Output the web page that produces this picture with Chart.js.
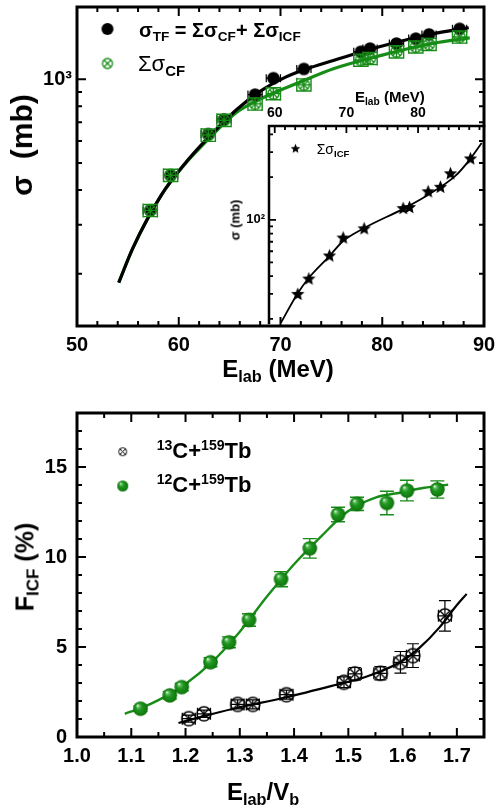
<!DOCTYPE html>
<html><head><meta charset="utf-8">
<script src="https://cdn.jsdelivr.net/npm/chart.js@4.4.1/dist/chart.umd.min.js"></script>
<style>
html,body{margin:0;padding:0;background:#fff;}
#wrap{position:relative;width:495px;height:811px;overflow:hidden;background:#fff;}
canvas{position:absolute;}
.t{position:absolute;font-family:'Liberation Sans',Arial,Helvetica,sans-serif;font-weight:bold;white-space:nowrap;line-height:1;color:#000;}
.n{font-weight:normal;}
.sb{font-size:.68em;position:relative;top:.3em;font-weight:bold;}
.sp{font-size:.64em;position:relative;top:-.55em;}
.rot{transform:translate(-50%,-50%) rotate(-90deg);}
.cx{transform:translateX(-50%);}
</style></head>
<body><div id="wrap">
<canvas id="top" width="495" height="395" style="left:0;top:0"></canvas>
<canvas id="inset" width="270" height="240" style="left:225px;top:90px"></canvas>
<canvas id="bot" width="495" height="411" style="left:0;top:400px"></canvas>

<div class="t" style="left:139px;top:19.6px;font-size:20px">σ<span class="sb">TF</span> = Σσ<span class="sb">CF</span>+ Σσ<span class="sb">ICF</span></div>
<div class="t n" style="left:138px;top:53.1px;font-size:22px">Σσ<span class="sb">CF</span></div>
<div class="t cx" style="left:278px;top:356.7px;font-size:24px">E<span class="sb">lab</span> (MeV)</div>
<div class="t rot" style="left:22px;top:145px;font-size:30px;word-spacing:8px">σ (mb)</div>

<div class="t n" style="left:316.7px;top:142.1px;font-size:14px">Σσ<span class="sb">ICF</span></div>
<div class="t" style="left:355px;top:89px;font-size:15px">E<span class="sb">lab</span> (MeV)</div>
<div class="t rot" style="left:235px;top:220px;font-size:13px">σ (mb)</div>

<div class="t" style="left:156.7px;top:439.7px;font-size:22px"><span class="sp">13</span>C+<span class="sp">159</span>Tb</div>
<div class="t" style="left:156.7px;top:474.1px;font-size:22px"><span class="sp">12</span>C+<span class="sp">159</span>Tb</div>
<div class="t cx" style="left:263px;top:779.7px;font-size:24px">E<span class="sb">lab</span>/V<span class="sb">b</span></div>
<div class="t rot" style="left:25px;top:567px;font-size:25px">F<span class="sb">ICF</span> (%)</div>
</div>
<script>
// ---------- Top panel: cross sections vs E_lab ----------
const E_lab      = [57.2, 59.2, 62.9, 64.45, 67.5, 69.3, 72.3, 77.9, 78.8, 81.4, 83.3, 84.6, 87.6];
const E_err      = [0.7, 0.7, 0.7, 0.7, 0.7, 0.7, 0.7, 0.7, 0.7, 0.7, 0.7, 0.7, 0.7];
const sigmaTF    = [338, 452, 635, 717, 880, 1008, 1088, 1254, 1288, 1342, 1398, 1447, 1516];
const sigmaTF_err= [10, 14, 19, 22, 26, 30, 33, 38, 39, 40, 42, 43, 45];
const sigmaCF    = [338, 452, 630, 712, 815, 887, 954, 1171, 1187, 1254, 1306, 1334, 1417];
const sigmaCF_err= [17, 23, 32, 36, 41, 44, 48, 59, 59, 63, 65, 67, 71];
const fitTF_E    = [54.1, 55.5, 58.3, 60.45, 62.75, 65.7, 68.0, 70.3, 72.3, 75.2, 80.1, 85.0, 88.5];
const fitTF      = [186, 248, 384, 490, 609, 778, 904, 1008, 1080, 1167, 1318, 1455, 1529];
const fitCF_E    = [54.1, 55.5, 58.3, 60.45, 62.75, 65.7, 68.6, 71.9, 75.2, 80.1, 85.0, 88.6];
const fitCF      = [186, 248, 384, 488, 600, 760, 868, 975, 1090, 1222, 1345, 1406];
const topXLabels = [50, 60, 70, 80, 90];
const topYLabels = [1000];
const topYMinor  = [200, 300, 400, 500, 600, 700, 800, 900];

// ---------- Inset: ICF cross section ----------
const icfE       = [63.15, 64.69, 67.57, 69.48, 72.41, 77.85, 78.73, 81.34, 83.06, 84.45, 87.24];
const sigmaICF   = [30, 38.5, 56, 75, 87, 121, 123, 159, 171, 213, 271];
const fitICF_E   = [60.84, 63.15, 64.69, 67.57, 69.48, 72.41, 77.85, 81.2, 85.2, 87.24, 88.87];
const fitICF     = [18.7, 30, 38.5, 55, 70.3, 87, 119, 148, 204, 267, 348];
const insetXLabels = [60, 70, 80];
const insetYLabels = [100];
const insetYMinor  = [20, 30, 40, 50, 60, 70, 80, 90, 200, 300, 400];

// ---------- Bottom panel: F_ICF vs E_lab/V_b ----------
const ratio12 = [1.117, 1.171, 1.193, 1.246, 1.280, 1.317, 1.376, 1.429, 1.481, 1.516, 1.571, 1.608, 1.664];
const F12     = [1.57, 2.31, 2.77, 4.15, 5.26, 6.50, 8.77, 10.48, 12.36, 12.95, 13.0, 13.69, 13.75];
const err12   = [0.15, 0.2, 0.2, 0.25, 0.3, 0.35, 0.42, 0.54, 0.4, 0.37, 0.65, 0.57, 0.48];
const ratio13 = [1.206, 1.234, 1.296, 1.324, 1.386, 1.492, 1.512, 1.559, 1.596, 1.619, 1.678];
const F13     = [1.02, 1.29, 1.81, 1.81, 2.35, 3.04, 3.51, 3.54, 4.15, 4.52, 6.73];
const err13   = [0.2, 0.2, 0.25, 0.25, 0.25, 0.3, 0.35, 0.37, 0.6, 0.66, 0.85];
const errX13  = [0.012, 0.012, 0.012, 0.012, 0.012, 0.012, 0.012, 0.012, 0.012, 0.012, 0.012];
const fit12_x = [1.088, 1.117, 1.15, 1.2, 1.25, 1.3, 1.35, 1.4, 1.45, 1.5, 1.55, 1.6, 1.64, 1.684];
const fit12_y = [1.29, 1.6, 2.05, 2.95, 4.2, 5.85, 7.8, 9.6, 11.15, 12.55, 13.3, 13.6, 13.85, 14.02];
const fit13_x = [1.187, 1.22, 1.288, 1.386, 1.472, 1.534, 1.595, 1.632, 1.668, 1.699, 1.718];
const fit13_y = [0.78, 1.05, 1.57, 2.21, 2.86, 3.36, 4.15, 4.98, 6.09, 7.29, 7.95];
const botXLabels = [1.0, 1.1, 1.2, 1.3, 1.4, 1.5, 1.6, 1.7];
const botYLabels = [0, 5, 10, 15];

// ---------- helpers ----------
Chart.defaults.font.family = "'Liberation Sans', Arial, Helvetica, sans-serif";
Chart.defaults.color = '#000';
const G = '#178c17';
const pts = (xs, ys) => xs.map((x, i) => ({x: x, y: ys[i]}));

function mk(s){ const c = document.createElement('canvas'); c.width = c.height = s; return c; }
function circleX(r, color, lw){
  const s = Math.ceil(2*r + lw + 2), c = mk(s), g = c.getContext('2d'), m = s/2;
  g.strokeStyle = color; g.lineWidth = lw;
  g.beginPath(); g.arc(m, m, r, 0, Math.PI*2); g.stroke();
  const d = r*Math.SQRT1_2;
  g.beginPath(); g.moveTo(m-d, m-d); g.lineTo(m+d, m+d); g.moveTo(m+d, m-d); g.lineTo(m-d, m+d); g.stroke();
  return c;
}
function disc(r, color){
  const s = Math.ceil(2*r + 2), c = mk(s), g = c.getContext('2d'), m = s/2;
  g.fillStyle = color; g.beginPath(); g.arc(m, m, r, 0, Math.PI*2); g.fill(); return c;
}
function sphere(r){
  const s = Math.ceil(2*r + 2), c = mk(s), g = c.getContext('2d'), m = s/2;
  const gr = g.createRadialGradient(m - r*0.4, m - r*0.45, r*0.05, m, m, r);
  gr.addColorStop(0, '#e8f8e8'); gr.addColorStop(0.18, '#5cbc5c'); gr.addColorStop(0.45, '#1f931f');
  gr.addColorStop(0.85, '#11800f'); gr.addColorStop(1, '#0a640a');
  g.fillStyle = gr; g.beginPath(); g.arc(m, m, r, 0, Math.PI*2); g.fill(); return c;
}
function star(R){
  const s = Math.ceil(2*R + 2), c = mk(s), g = c.getContext('2d'), m = s/2 + 0.5;
  g.fillStyle = '#000'; g.beginPath();
  for (let i = 0; i < 10; i++){ const rr = i % 2 ? R*0.45 : R; const a = -Math.PI/2 + i*Math.PI/5; g.lineTo(m + rr*Math.cos(a), m + rr*Math.sin(a)); }
  g.closePath(); g.fill(); return c;
}
function tickList(major, minor){
  return major.map(v => ({value: v, major: true})).concat(minor.map(v => ({value: v, major: false})))
    .sort((a, b) => a.value - b.value);
}
function range(a, b, step){ const r = []; for (let v = a; v <= b + 1e-9; v += step) r.push(+v.toFixed(6)); return r; }
const fixW = w => s => { s.width = w; s.paddingTop = 0; s.paddingBottom = 0; s.paddingLeft = 0; s.paddingRight = 0; };
const fixH = h => s => { s.height = h; s.paddingTop = 0; s.paddingBottom = 0; s.paddingLeft = 0; s.paddingRight = 0; };

const errPlugin = {
  id: 'errbars',
  beforeDatasetDraw(chart, args){
    const ds = chart.data.datasets[args.index];
    if (!ds.errY && !ds.errX) return;
    const xs = chart.scales.x, ys = chart.scales.y, ctx = chart.ctx, c = ds.cap || 5;
    ctx.save(); ctx.strokeStyle = ds.errColor; ctx.lineWidth = ds.errWidth || 1.3;
    ds.data.forEach((p, i) => {
      const px = xs.getPixelForValue(p.x), py = ys.getPixelForValue(p.y);
      ctx.beginPath();
      if (ds.errY){ const e = ds.errY[i]; const y1 = ys.getPixelForValue(p.y + e), y2 = ys.getPixelForValue(p.y - e);
        ctx.moveTo(px, y1); ctx.lineTo(px, y2); ctx.moveTo(px - c, y1); ctx.lineTo(px + c, y1); ctx.moveTo(px - c, y2); ctx.lineTo(px + c, y2); }
      if (ds.errX){ const e = ds.errX[i]; const x1 = xs.getPixelForValue(p.x - e), x2 = xs.getPixelForValue(p.x + e);
        ctx.moveTo(x1, py); ctx.lineTo(x2, py); ctx.moveTo(x1, py - c); ctx.lineTo(x1, py + c); ctx.moveTo(x2, py - c); ctx.lineTo(x2, py + c); }
      ctx.stroke();
    });
    ctx.restore();
  }
};
function framePlugin(o){
  return { id: 'frame', afterDraw(chart){
    const ctx = chart.ctx, a = chart.chartArea, xs = chart.scales.x, ys = chart.scales.y;
    ctx.save(); ctx.strokeStyle = '#000'; ctx.lineWidth = o.tw; ctx.beginPath();
    xs.ticks.forEach(t => { const p = xs.getPixelForValue(t.value); const L = t.major ? o.maj : o.min;
      if (o.bottom){ ctx.moveTo(p, a.bottom); ctx.lineTo(p, a.bottom - L); }
      if (o.top){ ctx.moveTo(p, a.top); ctx.lineTo(p, a.top + L); } });
    ys.ticks.forEach(t => { const p = ys.getPixelForValue(t.value); const L = t.major ? o.maj : o.min;
      if (o.left){ ctx.moveTo(a.left, p); ctx.lineTo(a.left + L, p); }
      if (o.right){ ctx.moveTo(a.right, p); ctx.lineTo(a.right - L, p); } });
    ctx.stroke();
    ctx.lineWidth = o.lw; ctx.lineCap = 'square'; ctx.beginPath();
    if (o.left){ ctx.moveTo(a.left, a.bottom); ctx.lineTo(a.left, a.top); }
    if (o.top){ ctx.moveTo(a.left, a.top); ctx.lineTo(a.right, a.top); }
    if (o.right){ ctx.moveTo(a.right, a.top); ctx.lineTo(a.right, a.bottom); }
    if (o.bottom){ ctx.moveTo(a.right, a.bottom); ctx.lineTo(a.left, a.bottom); }
    ctx.stroke(); ctx.restore();
  } };
}
function legendSyms(list){
  return { id: 'legsym', afterDraw(chart){ const ctx = chart.ctx;
    list.forEach(s => ctx.drawImage(s.img, s.x - s.img.width/2, s.y - s.img.height/2)); } };
}
const bold = s => ({size: s, weight: 'bold'});
const noGrid = {display: false, drawTicks: false};
const baseOpts = {responsive: false, animation: false, devicePixelRatio: 1,
  plugins: {legend: {display: false}, tooltip: {enabled: false}}, events: []};

// ---------- top chart ----------
const cxGreen = circleX(5.5, G, 1.4), dotBlack = disc(6.3, '#000');
new Chart(document.getElementById('top'), {
  type: 'scatter',
  data: {datasets: [
    {label: 'ΣσCF', data: pts(E_lab, sigmaCF), pointStyle: cxGreen, pointRadius: 6, errX: E_err, errY: sigmaCF_err, errColor: G, cap: 7, errWidth: 1.4, order: 0},
    {label: 'σTF', data: pts(E_lab, sigmaTF), pointStyle: dotBlack, pointRadius: 6, errX: E_err, errY: sigmaTF_err, errColor: '#000', cap: 4, errWidth: 1.2, order: 1},
    {label: 'TF fit', data: pts(fitTF_E, fitTF), showLine: true, pointRadius: 0, borderColor: '#000', borderWidth: 3.2, cubicInterpolationMode: 'monotone', order: 2},
    {label: 'CF fit', data: pts(fitCF_E, fitCF), showLine: true, pointRadius: 0, borderColor: G, borderWidth: 3.2, cubicInterpolationMode: 'monotone', order: 3}
  ]},
  options: Object.assign({}, baseOpts, {
    layout: {padding: {left: 0, right: 11, top: 3, bottom: 0}},
    scales: {
      x: {type: 'linear', min: 50, max: 90, grid: noGrid, border: {display: false},
          afterFit: fixH(69),
          afterBuildTicks: s => { s.ticks = tickList(topXLabels, range(52, 88, 2).filter(v => !topXLabels.includes(v))); },
          ticks: {autoSkip: false, maxRotation: 0, padding: 7, font: bold(20), callback: (v, i, t) => t[i].major ? String(v) : ''}},
      y: {type: 'logarithmic', min: 130, max: 1815, grid: noGrid, border: {display: false},
          afterFit: fixW(77),
          afterBuildTicks: s => { s.ticks = tickList(topYLabels, topYMinor); },
          ticks: {autoSkip: false, padding: 5, font: bold(20), callback: (v, i, t) => t[i].major ? '10³' : ''}}
    }
  }),
  plugins: [errPlugin, framePlugin({left: true, right: true, top: true, bottom: true, lw: 3, tw: 2, maj: 9, min: 5}),
            legendSyms([{img: disc(6, '#000'), x: 107.5, y: 29}, {img: circleX(5, G, 1.3), x: 107.5, y: 63.5}])]
});

// ---------- inset chart ----------
const starImg = star(7);
new Chart(document.getElementById('inset'), {
  type: 'scatter',
  data: {datasets: [
    {label: 'ΣσICF', data: pts(icfE, sigmaICF), pointStyle: starImg, pointRadius: 6, order: 0},
    {label: 'ICF fit', data: pts(fitICF_E, fitICF), showLine: true, pointRadius: 0, borderColor: '#000', borderWidth: 1.8, cubicInterpolationMode: 'monotone', order: 1}
  ]},
  options: Object.assign({}, baseOpts, {
    layout: {padding: {left: 0, right: 11, top: 0, bottom: 4}},
    scales: {
      x: {type: 'linear', position: 'top', min: 59.2, max: 89.2, grid: noGrid, border: {display: false},
          afterFit: fixH(36),
          afterBuildTicks: s => { s.ticks = tickList(insetXLabels, range(60, 89, 10/7).filter(v => !insetXLabels.some(m => Math.abs(m - v) < 1e-6))); },
          ticks: {autoSkip: false, maxRotation: 0, padding: 4, font: bold(14), callback: (v, i, t) => t[i].major ? String(v) : ''}},
      y: {type: 'logarithmic', min: 18.7, max: 459, grid: noGrid, border: {display: false},
          afterFit: fixW(44),
          afterBuildTicks: s => { s.ticks = tickList(insetYLabels, insetYMinor); },
          ticks: {autoSkip: false, padding: 4, font: bold(13), callback: (v, i, t) => t[i].major ? '10²' : ''}}
    }
  }),
  plugins: [framePlugin({left: true, top: true, right: false, bottom: false, lw: 2.5, tw: 1.8, maj: 7, min: 4}),
            legendSyms([{img: star(5), x: 70, y: 58.3}])]
});

// ---------- bottom chart ----------
new Chart(document.getElementById('bot'), {
  type: 'scatter',
  data: {datasets: [
    {label: '13C+159Tb', data: pts(ratio13, F13), pointStyle: circleX(7, '#000', 1.4), pointRadius: 7, errY: err13, errX: errX13, errColor: '#000', cap: 6, errWidth: 1.2, order: 0},
    {label: '12C+159Tb', data: pts(ratio12, F12), pointStyle: sphere(7.3), pointRadius: 7, errY: err12, errColor: G, cap: 7, errWidth: 1.4, order: 1},
    {label: '13C fit', data: pts(fit13_x, fit13_y), showLine: true, pointRadius: 0, borderColor: '#000', borderWidth: 2.2, cubicInterpolationMode: 'monotone', order: 2},
    {label: '12C fit', data: pts(fit12_x, fit12_y), showLine: true, pointRadius: 0, borderColor: G, borderWidth: 2.4, cubicInterpolationMode: 'monotone', order: 3}
  ]},
  options: Object.assign({}, baseOpts, {
    layout: {padding: {left: 0, right: 11, top: 13, bottom: 0}},
    scales: {
      x: {type: 'linear', min: 1.0, max: 1.75, grid: noGrid, border: {display: false},
          afterFit: fixH(74),
          afterBuildTicks: s => { s.ticks = tickList(botXLabels, range(1.05, 1.75, 0.1)); },
          ticks: {autoSkip: false, maxRotation: 0, padding: 7, font: bold(20), callback: (v, i, t) => t[i].major ? v.toFixed(1) : ''}},
      y: {type: 'linear', min: 0, max: 18, grid: noGrid, border: {display: false},
          afterFit: fixW(77),
          afterBuildTicks: s => { s.ticks = tickList(botYLabels, range(1, 18, 1).filter(v => !botYLabels.includes(v))); },
          ticks: {autoSkip: false, padding: 10, font: bold(20), callback: (v, i, t) => t[i].major ? String(v) : ''}}
    }
  }),
  plugins: [errPlugin, framePlugin({left: true, right: true, top: true, bottom: true, lw: 3, tw: 2, maj: 9, min: 5}),
            legendSyms([{img: circleX(4, '#000', 1), x: 122.7, y: 51.7}, {img: sphere(5.5), x: 122.7, y: 86}])]
});
</script>
</body></html>
